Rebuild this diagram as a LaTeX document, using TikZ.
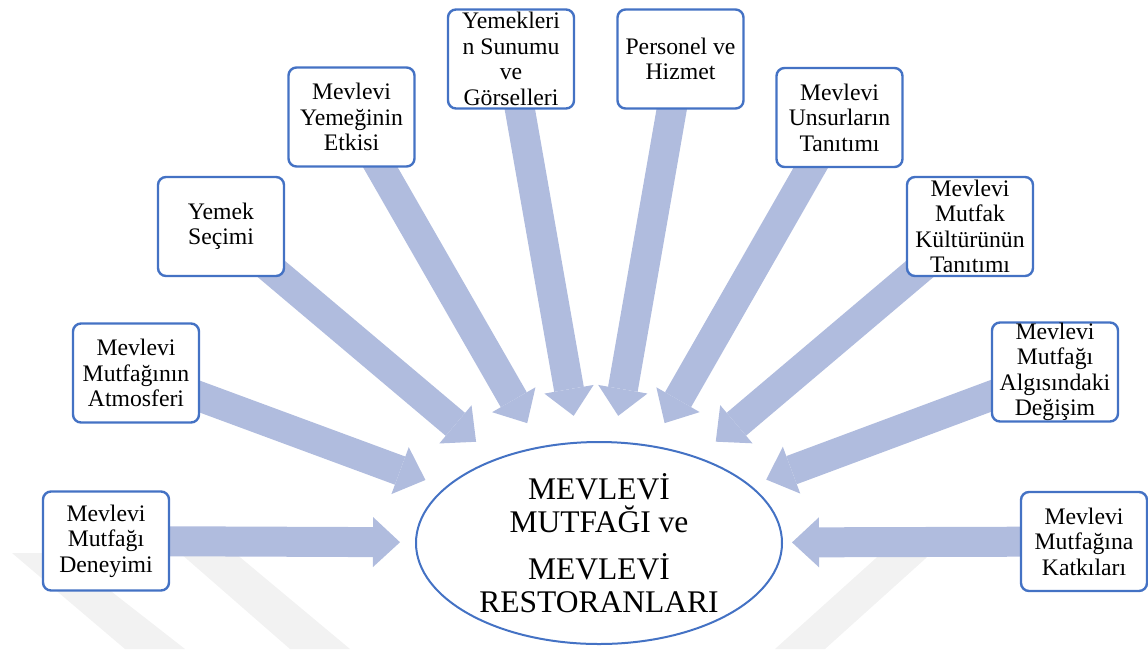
\documentclass[tikz,border=0pt]{standalone}
\usepackage{fontspec}
\setmainfont{Liberation Serif}
\usetikzlibrary{shapes.geometric}
\usetikzlibrary{arrows.meta}
\usetikzlibrary{backgrounds}
\definecolor{okmavi}{RGB}{176,188,222}
\definecolor{kenar}{RGB}{68,114,196}

\begin{document}
\begin{tikzpicture}[x=1pt, y=-1pt,
  kutu/.style={draw=kenar, line width=2.4pt, rounded corners=8pt, fill=white,
    minimum width=126pt, minimum height=99pt, inner sep=0pt, align=center,
    font=\fontsize{23.7}{25.5}\selectfont},
  ok/.style={draw=okmavi, line width=30pt,
    -{Triangle[length=27pt, width=50pt, line width=0pt]}},
  iz/.style={fill=black!5}]
  \useasboundingbox (0,0) rectangle (1148,649);

  \node (halo) [ellipse, minimum width=392pt, minimum height=256pt, inner sep=0pt, outer sep=0pt] at (596,543) {};
  \node (merkez) [ellipse, draw=kenar, line width=2pt, fill=white, inner sep=0pt,
    minimum width=366pt, minimum height=202pt, align=center,
    font=\fontsize{31.5}{33}\selectfont] at (599,543)
    {MEVLEVİ\\MUTFAĞI ve\\[14pt]MEVLEVİ\\RESTORANLARI};

  \node (deney)    [kutu] at (106,541)   {Mevlevi\\Mutfağı\\Deneyimi};
  \node (atmos)    [kutu] at (136,373)   {Mevlevi\\Mutfağının\\Atmosferi};
  \node (secim)    [kutu] at (221,226.5) {Yemek\\Seçimi};
  \node (etki)     [kutu] at (351.5,117) {Mevlevi\\Yemeğinin\\Etkisi};
  \node (sunum)    [kutu] at (511,59)    {Yemekleri\\n Sunumu\\ve\\Görselleri};
  \node (personel) [kutu] at (680.5,59)  {Personel ve\\Hizmet};
  \node (unsur)    [kutu] at (839.5,117.5) {Mevlevi\\Unsurların\\Tanıtımı};
  \node (kultur)   [kutu] at (970,226.5) {Mevlevi\\Mutfak\\Kültürünün\\Tanıtımı};
  \node (algi)     [kutu] at (1055,372)  {Mevlevi\\Mutfağı\\Algısındaki\\Değişim};
  \node (katki)    [kutu] at (1084,541.5) {Mevlevi\\Mutfağına\\Katkıları};

  \begin{scope}[on background layer]
    % faint watermark
    \fill[iz] (12,553) -- (62,553) -- (185,649) -- (125,649) -- cycle;
    \fill[iz] (180,553) -- (235,553) -- (350,649) -- (290,649) -- cycle;
    \fill[iz] (935,550) -- (885,550) -- (775,649) -- (825,649) -- cycle;
    \foreach \k in {deney,atmos,secim,etki,sunum,personel,unsur,kultur,algi,katki}
      \draw[ok] (\k.center) -- (halo);
  \end{scope}
\end{tikzpicture}
\end{document}
